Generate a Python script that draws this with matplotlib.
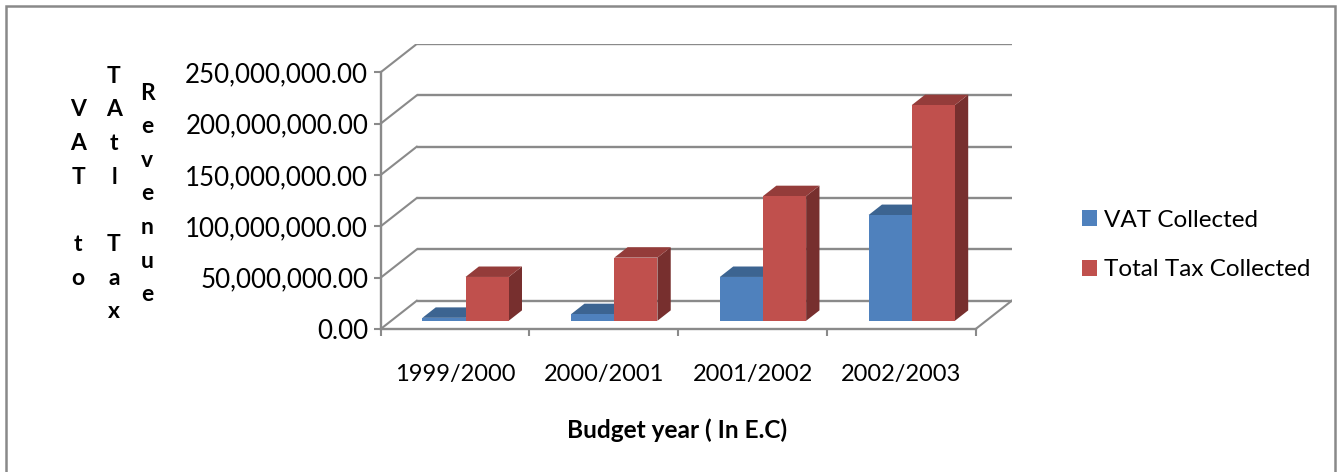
import matplotlib
matplotlib.use('Agg')
import matplotlib.pyplot as plt
from matplotlib.patches import Rectangle, Patch
from matplotlib.ticker import FuncFormatter

# ---------------- data ----------------
categories = ['1999/2000', '2000/2001', '2001/2002', '2002/2003']
vat_collected = [2.9e6, 6.5e6, 42.7e6, 103.0e6]
total_tax_collected = [42.7e6, 61.5e6, 121.4e6, 210.0e6]
series_names = ['VAT Collected', 'Total Tax Collected']
y_ticks = [0, 50e6, 100e6, 150e6, 200e6, 250e6]
x_title = 'Budget year ( In E.C)'
y_title_columns = ['V\nA\nT\n\nt\no', 'T\nA\nt\nl\n\nT\na\nx', 'R\ne\nv\ne\nn\nu\ne']

# ---------------- style ----------------
FONT = ['Lato', 'DejaVu Sans']
plt.rcParams['font.family'] = FONT
W, H = 1339, 472
fig = plt.figure(figsize=(W / 100, H / 100), dpi=100)
fig.patch.set_facecolor('white')

grid_color = '#8a8a8a'
front_colors = ['#4F81BD', '#C0504D']
top_colors = ['#3C6491', '#943C3A']
side_colors = ['#375B87', '#772F2E']

depth_x = 0.2424      # oblique depth offset (category units)
depth_y = 27.5e6      # oblique depth offset (value units)
ymax = 250e6
bar_w = 0.29
d_front, d_back = 0.29, 0.66

ax = fig.add_axes([380.7 / W, 1 - 329 / H, 631 / W, 285 / H])
ax.set_xlim(-0.5, len(categories) - 0.5 + depth_x)
ax.set_ylim(0, ymax + depth_y)
ax.patch.set_alpha(0)
for s in ['top', 'right']:
    ax.spines[s].set_visible(False)
ax.spines['left'].set_bounds(0, ymax)
ax.spines['bottom'].set_bounds(-0.5, len(categories) - 0.5)
for s in ['left', 'bottom']:
    ax.spines[s].set_color(grid_color)
    ax.spines[s].set_linewidth(1.7)

# back wall gridlines + left wall diagonals
x_left, x_right = -0.5, len(categories) - 0.5
for v in y_ticks:
    ax.plot([x_left + depth_x, x_right + depth_x], [v + depth_y, v + depth_y],
            color=grid_color, lw=1.7, solid_capstyle='butt', zorder=1)
    ax.plot([x_left, x_left + depth_x], [v, v + depth_y],
            color=grid_color, lw=1.5, zorder=1)
# floor right edge
ax.plot([x_right, x_right + depth_x], [0, depth_y], color=grid_color, lw=1.5, zorder=1)

# bars (oblique 3D)
series = [vat_collected, total_tax_collected]
for i in range(len(categories)):
    for j, vals in enumerate(series):
        v = vals[i]
        x0 = i - bar_w + j * bar_w
        x1 = x0 + bar_w
        fx0, fx1 = x0 + d_front * depth_x, x1 + d_front * depth_x
        bx0, bx1 = x0 + d_back * depth_x, x1 + d_back * depth_x
        fy, by = d_front * depth_y, d_back * depth_y
        z = 3 + i * 3 + j
        # side face
        ax.fill([fx1, bx1, bx1, fx1], [fy, by, v + by, v + fy],
                color=side_colors[j], lw=0, zorder=z)
        # top face
        ax.fill([fx0, fx1, bx1, bx0], [v + fy, v + fy, v + by, v + by],
                color=top_colors[j], lw=0, zorder=z)
        # front face
        ax.bar(fx0, v, width=bar_w, bottom=fy, align='edge',
               color=front_colors[j], lw=0, zorder=z + 0.5)

# y axis ticks
ax.set_yticks(y_ticks)
ax.yaxis.set_major_formatter(FuncFormatter(lambda v, p: f'{v:,.2f}'))
ax.tick_params(axis='y', direction='out', length=5, width=1.5, color=grid_color,
               labelsize=18.6, pad=4, labelcolor='black')
# x axis ticks (boundaries) and category labels
ax.set_xticks([x_left + k for k in range(len(categories) + 1)])
ax.set_xticklabels([])
ax.tick_params(axis='x', which='major', direction='out', length=5, width=1.5, color=grid_color)
ax.set_xticks(range(len(categories)), categories, minor=True)
ax.tick_params(axis='x', which='minor', length=0, pad=25, labelsize=17, labelcolor='black')

ax.set_xlabel(x_title, fontsize=17.6, fontweight='bold', labelpad=24)
ax.xaxis.label.set_x((677 - 380.7) / 631)

# y title in stacked columns
for k, (col, xc) in enumerate(zip(y_title_columns, [78, 114, 147])):
    fig.text(xc / W, 1 - 194 / H, col, ha='center', va='center', fontsize=16.5,
             fontweight='bold', linespacing=1.745, multialignment='center')

# legend
handles = [Patch(facecolor=c, edgecolor='none') for c in front_colors]
fig.legend(handles, series_names, loc='center left',
           bbox_to_anchor=(1081.7 / W, 1 - 245 / H), frameon=False,
           fontsize=17.5, handlelength=0.62, handleheight=0.62,
           handletextpad=0.3, labelspacing=1.17, borderpad=0, borderaxespad=0)

# chart border
fig.patches.append(Rectangle((6 / W, -0.01), (1335 - 6) / W, 1 - 6 / H + 0.01,
                             transform=fig.transFigure, fill=False,
                             edgecolor='#898989', lw=1.8))

fig.savefig('out.png', dpi=100)
